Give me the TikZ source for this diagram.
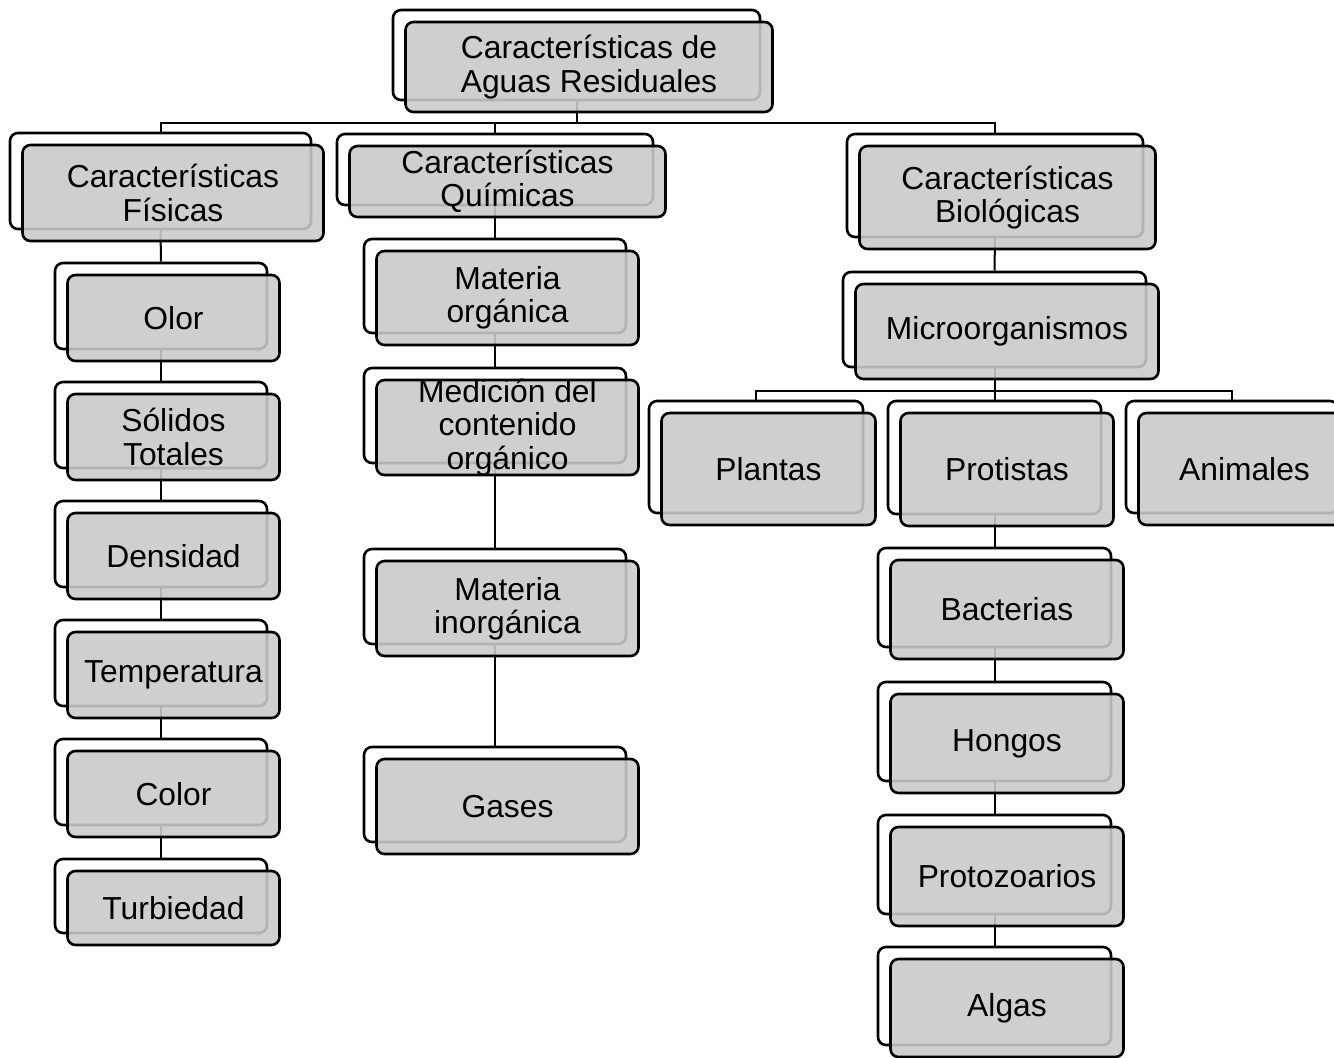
\documentclass[tikz,border=0pt]{standalone}
\usepackage{fontspec}
\setmainfont{Liberation Sans}
\usetikzlibrary{backgrounds}
\tikzset{
  backbox/.style={draw=black, line width=1.3pt, fill=white, rounded corners=4pt, inner sep=0pt},
  frontbox/.style={draw=black, line width=1.3pt, fill={rgb,255:red,202;green,202;blue,202}, fill opacity=0.89, rounded corners=4pt, inner sep=0pt},
  lbl/.style={align=center, font=\fontsize{15.9}{16.7}\selectfont, inner sep=0pt, text=black},
  conn/.style={draw=black, line width=1pt}
}
% name, cx, cy, w, h, text  (back box centre and size in px)
\newcommand\dblbox[6]{%
  \node[backbox, minimum width=#4*0.5pt, minimum height=#5*0.5pt] (#1-b) at (#2,#3) {};
  \node[frontbox, minimum width=#4*0.5pt, minimum height=#5*0.5pt] (#1-f) at (#2+12.5,#3+12) {};
  \node[lbl] (#1) at (#1-f.center) {#6};
}
\begin{document}
\begin{tikzpicture}[x=0.5pt,y=-0.5pt]
\useasboundingbox (0,0) rectangle (1334,1057);
\clip (0,0) rectangle (1334,1057);

\dblbox{root}{576.5}{55}{367}{90}{Características de\\Aguas Residuales}
\dblbox{fis}{160.5}{181}{301}{96}{Características\\Físicas}
\dblbox{qui}{495}{169.5}{316}{71}{Características\\Químicas}
\dblbox{bio}{995}{185.5}{296}{103}{Características\\Biológicas}

% physical column
\dblbox{olor}{161}{306}{212}{86}{Olor}
\dblbox{sol}{161}{425}{212}{86}{Sólidos\\Totales}
\dblbox{dens}{161}{544}{212}{86}{Densidad}
\dblbox{temp}{161}{663}{212}{86}{Temperatura}
\dblbox{color}{161}{782}{212}{86}{Color}
\dblbox{turb}{161}{896}{212}{74}{Turbiedad}

% chemical column
\dblbox{mo}{495}{286}{262}{94}{Materia\\orgánica}
\dblbox{med}{495}{415.5}{262}{95}{Medición del\\contenido\\orgánico}
\dblbox{mi}{495}{596.5}{262}{95}{Materia\\inorgánica}
\dblbox{gas}{495}{794.5}{262}{95}{Gases}

% biological column
\dblbox{micro}{994.5}{319.5}{303}{95}{Microorganismos}
\dblbox{plan}{756}{457}{214}{112}{Plantas}
\dblbox{prot}{994.5}{457.5}{213}{113}{Protistas}
\dblbox{anim}{1232}{457}{212}{112}{Animales}
\dblbox{bact}{994.5}{597.5}{233}{99}{Bacterias}
\dblbox{hong}{994.5}{731.5}{233}{99}{Hongos}
\dblbox{protz}{994.5}{864.5}{233}{99}{Protozoarios}
\dblbox{alg}{994.5}{996}{233}{98}{Algas}

\begin{pgfonlayer}{background}
  \path (root-b.south) ++(0,22) coordinate (j1);
  \draw[conn] (root-b.south) -- (j1);
  \draw[conn] (fis-b.north) |- (j1);
  \draw[conn] (qui-b.north) |- (j1);
  \draw[conn] (bio-b.north) |- (j1);

  \draw[conn] (fis-b.south) -- (olor-b.north);
  \draw[conn] (olor-b.south) -- (sol-b.north);
  \draw[conn] (sol-b.south) -- (dens-b.north);
  \draw[conn] (dens-b.south) -- (temp-b.north);
  \draw[conn] (temp-b.south) -- (color-b.north);
  \draw[conn] (color-b.south) -- (turb-b.north);

  \draw[conn] (qui-b.south) -- (mo-b.north);
  \draw[conn] (mo-b.south) -- (med-b.north);
  \draw[conn] (med-b.south) -- (mi-b.north);
  \draw[conn] (mi-b.south) -- (gas-b.north);

  \draw[conn] (bio-b.south) -- (micro-b.north);
  \path (micro-b.south) ++(0,23) coordinate (j2);
  \draw[conn] (micro-b.south) -- (j2);
  \draw[conn] (plan-b.north) |- (j2);
  \draw[conn] (prot-b.north) |- (j2);
  \draw[conn] (anim-b.north) |- (j2);

  \draw[conn] (prot-b.south) -- (bact-b.north);
  \draw[conn] (bact-b.south) -- (hong-b.north);
  \draw[conn] (hong-b.south) -- (protz-b.north);
  \draw[conn] (protz-b.south) -- (alg-b.north);
\end{pgfonlayer}
\end{tikzpicture}
\end{document}
